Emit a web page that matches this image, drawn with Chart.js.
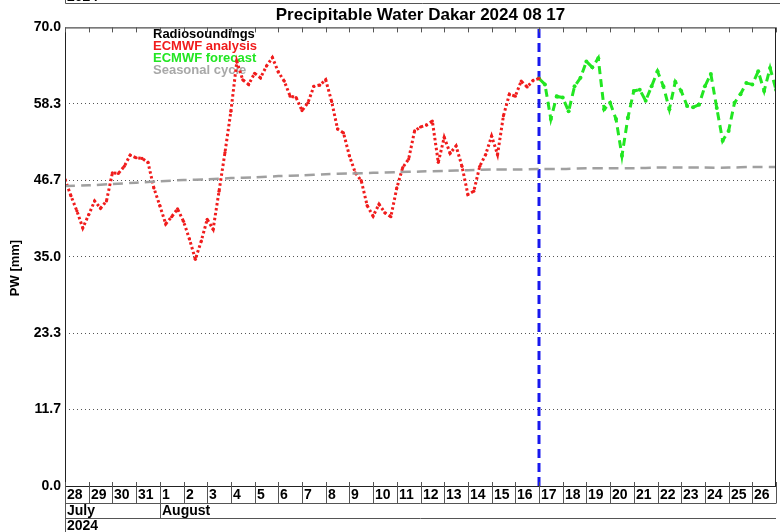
<!DOCTYPE html>
<html>
<head>
<meta charset="utf-8">
<script src="https://cdn.jsdelivr.net/npm/chart.js@4/dist/chart.umd.min.js"></script>
<style>
html, body { margin: 0; padding: 0; background: #fff; }
#wrap { width: 780px; height: 532px; }
</style>
</head>
<body>
<div id="wrap"><canvas id="pw"></canvas></div>
<script>
// x values are days since 28 July 2024 00 UTC, 6-hourly steps
const stepDays = 0.25;
const analysisStart = 0;
const forecastStart = 20;

const analysisPW = [
    46.8, 44.3, 42.0, 39.4, 41.4, 43.5, 42.4, 43.5, 47.8, 47.7,
    48.8, 50.5, 50.1, 50.0, 49.4, 45.5, 42.8, 40.0, 41.1, 42.3,
    40.4, 37.7, 34.6, 37.4, 40.7, 39.2, 45.0, 50.9, 57.2, 64.8,
    62.0, 61.3, 63.0, 62.3, 64.1, 65.4, 63.2, 61.8, 59.5, 59.3,
    57.3, 58.5, 61.0, 61.2, 62.0, 58.7, 54.5, 53.9, 50.4, 47.8,
    46.6, 42.8, 41.2, 43.0, 41.7, 41.1, 45.5, 48.6, 49.9, 54.2,
    54.8, 55.1, 55.7, 49.4, 53.2, 50.8, 51.9, 48.8, 44.5, 45.0,
    48.8, 50.6, 53.4, 50.6, 56.5, 59.8, 59.5, 61.8, 60.9, 61.9,
    62.2
];

const forecastPW = [
    62.2, 61.3, 56.0, 59.5, 59.3, 57.2, 61.0, 62.3, 64.8, 63.9,
    65.3, 57.5, 58.5, 56.0, 50.4, 56.2, 60.3, 60.5, 58.8, 61.0,
    63.3, 61.0, 57.5, 61.7, 60.3, 58.0, 57.8, 58.2, 61.0, 62.9,
    57.7, 52.7, 54.2, 58.5, 59.8, 61.5, 61.3, 63.3, 60.3, 63.8,
    60.5
];

// daily seasonal cycle
const seasonalPW = [
    45.8, 45.9, 46.1, 46.3, 46.5, 46.7, 46.8, 47.0, 47.1, 47.3,
    47.4, 47.6, 47.7, 47.8, 47.9, 48.0, 48.1, 48.2, 48.3, 48.3,
    48.4, 48.4, 48.5, 48.5, 48.5, 48.6, 48.6, 48.6, 48.6, 48.7,
    48.7
];

const dayLabels = ['28', '29', '30', '31', '1', '2', '3', '4', '5', '6', '7', '8', '9', '10',
    '11', '12', '13', '14', '15', '16', '17', '18', '19', '20', '21', '22', '23', '24', '25', '26'];
const monthLabels = ['July', 'August'];
const monthStarts = [0, 4];
const yearLabel = '2024';

const yTicks = [0, 70 / 6, 140 / 6, 35, 280 / 6, 350 / 6, 70];
const yTickLabels = ['0.0', '11.7', '23.3', '35.0', '46.7', '58.3', '70.0'];
const yTitle = 'PW [mm]';

const legendNames = ['Radiosoundings', 'ECMWF analysis', 'ECMWF forecast', 'Seasonal cycle'];
const legendColors = ['#000000', '#f01c1c', '#22e622', '#a8a8a8'];

const FONT = '"Liberation Sans", Arial, sans-serif';

const toPoints = (vals, start, step) => vals.map((v, i) => ({ x: start + i * step, y: v }));

const framePlugin = {
    id: 'frame',
    beforeDatasetsDraw(chart) {
        const { ctx, chartArea: a } = chart;
        ctx.save();
        ctx.font = 'bold 13px ' + FONT;
        ctx.textBaseline = 'middle';
        ctx.textAlign = 'left';
        legendNames.forEach((name, i) => {
            ctx.fillStyle = legendColors[i];
            ctx.fillText(name, 153, a.top + 7 + i * 12);
        });
        ctx.restore();
    },
    afterDraw(chart) {
        const { ctx, chartArea: a, scales: { x } } = chart;
        const row1 = 503.5, row2 = 518.5;
        ctx.save();
        ctx.lineWidth = 1;

        // remnant of panel above
        ctx.strokeStyle = '#555';
        ctx.beginPath();
        ctx.moveTo(65.5, 0); ctx.lineTo(65.5, 3.5); ctx.lineTo(780, 3.5);
        ctx.stroke();
        ctx.fillStyle = '#000';
        ctx.font = 'bold 14px ' + FONT;
        ctx.textBaseline = 'alphabetic';
        ctx.fillText(yearLabel, 67, 1);

        // y axis title
        ctx.save();
        ctx.translate(15, 268);
        ctx.rotate(-Math.PI / 2);
        ctx.font = 'bold 13px ' + FONT;
        ctx.textAlign = 'center';
        ctx.textBaseline = 'middle';
        ctx.fillText(yTitle, 0, 0);
        ctx.restore();

        // plot box
        ctx.strokeStyle = '#222';
        ctx.strokeRect(a.left + 0.5, a.top + 0.5, a.right - a.left - 1, a.bottom - a.top);

        // day ticks
        ctx.strokeStyle = '#555';
        ctx.beginPath();
        for (let i = 0; i <= dayLabels.length; i++) {
            const px = Math.round(x.getPixelForValue(i)) + 0.5;
            ctx.moveTo(px, a.top);
            ctx.lineTo(px, a.top + 5);
            ctx.moveTo(px, a.bottom - 4);
            ctx.lineTo(px, monthStarts.includes(i) ? row2 : row1);
        }
        ctx.moveTo(a.left + 0.5, a.bottom);
        ctx.lineTo(a.left + 0.5, 532);
        ctx.moveTo(a.left, row1);
        ctx.lineTo(a.right, row1);
        ctx.moveTo(a.left, row2);
        ctx.lineTo(a.right, row2);
        ctx.stroke();

        ctx.fillStyle = '#000';
        ctx.font = 'bold 14px ' + FONT;
        ctx.textBaseline = 'middle';
        ctx.textAlign = 'left';
        dayLabels.forEach((lab, i) => {
            ctx.fillText(lab, Math.round(x.getPixelForValue(i)) + 2, 495);
        });
        monthLabels.forEach((lab, i) => {
            ctx.fillText(lab, Math.round(x.getPixelForValue(monthStarts[i])) + 2, 511);
        });
        ctx.fillText(yearLabel, a.left + 2, 526);
        ctx.restore();
    }
};

const ctx = document.getElementById('pw').getContext('2d');

const myChart = new Chart(ctx, {
    type: 'line',
    data: {
        datasets: [
            {
                label: 'Seasonal cycle',
                data: toPoints(seasonalPW, 0, 1),
                borderColor: '#a0a0a0',
                borderWidth: 2.5,
                borderDash: [10, 6],
                pointRadius: 0,
                tension: 0.3,
            },
            {
                label: 'ECMWF analysis',
                data: toPoints(analysisPW, analysisStart, stepDays),
                borderColor: '#f01c1c',
                backgroundColor: '#f01c1c',
                borderWidth: 3,
                borderDash: [2.5, 2.5],
                pointRadius: 1.6,
                pointBorderWidth: 0,
            },
            {
                label: 'ECMWF forecast',
                data: toPoints(forecastPW, forecastStart, stepDays),
                borderColor: '#22e622',
                backgroundColor: '#22e622',
                borderWidth: 3,
                borderDash: [8, 5],
                pointRadius: 2,
                pointBorderWidth: 0,
            },
            {
                label: 'Forecast start',
                data: [{ x: forecastStart, y: 0 }, { x: forecastStart, y: 70 }],
                borderColor: '#1818ee',
                borderWidth: 3,
                borderDash: [9, 5],
                pointRadius: 0,
            },
        ],
    },
    options: {
        responsive: true,
        maintainAspectRatio: false,
        animation: false,
        layout: {
            padding: { left: 0, right: 2, top: 0, bottom: 46 },
        },
        plugins: {
            legend: { display: false },
            tooltip: { enabled: false },
            title: {
                display: true,
                fullSize: false,
                text: 'Precipitable Water Dakar 2024 08 17',
                color: '#000',
                font: { family: FONT, size: 17, weight: 'bold' },
                padding: { top: 5, bottom: 2 },
            },
        },
        scales: {
            x: {
                type: 'linear',
                min: 0,
                max: dayLabels.length,
                display: false,
            },
            y: {
                min: 0,
                max: 70,
                afterBuildTicks: (scale) => {
                    scale.ticks = yTicks.map((v) => ({ value: v }));
                },
                afterFit: (scale) => {
                    scale.width = 65;
                },
                ticks: {
                    color: '#000',
                    padding: 4,
                    font: { family: FONT, size: 14, weight: 'bold' },
                    callback: (val, i) => yTickLabels[i],
                },
                grid: {
                    drawTicks: false,
                    color: (c) => (c.index === 0 || c.index === yTicks.length - 1 ? 'rgba(0,0,0,0)' : '#555'),
                    lineWidth: 1,
                },
                border: { display: false, dash: [1, 3] },
            },
        },
    },
    plugins: [framePlugin],
});
</script>
</body>
</html>
